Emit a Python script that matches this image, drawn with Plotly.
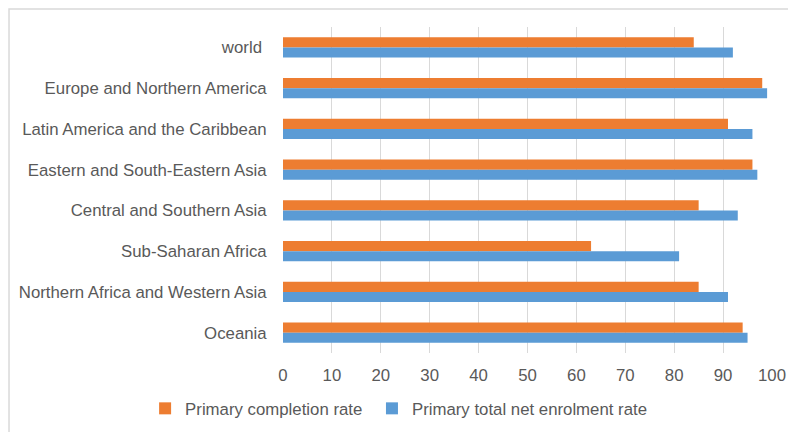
import plotly.graph_objects as go

regions = [
    "world\u00a0",
    "Europe and Northern America",
    "Latin America and the Caribbean",
    "Eastern and South-Eastern Asia",
    "Central and Southern Asia",
    "Sub-Saharan Africa",
    "Northern Africa and Western Asia",
    "Oceania",
]
completion_rate = [84, 98, 91, 96, 85, 63, 85, 94]
enrolment_rate = [92, 99, 96, 97, 93, 81, 91, 95]
x_ticks = [0, 10, 20, 30, 40, 50, 60, 70, 80, 90, 100]

FONT = "Liberation Sans, Arial, sans-serif"
TXT = "#595959"
FS = 16.8

fig = go.Figure()
fig.add_trace(go.Bar(
    y=regions, x=completion_rate, orientation="h",
    name="Primary completion rate\u00a0", marker=dict(color="#ED7D31", line=dict(width=0)),
))
fig.add_trace(go.Bar(
    y=regions, x=enrolment_rate, orientation="h",
    name="Primary total net enrolment rate", marker=dict(color="#5B9BD5", line=dict(width=0)),
))

fig.update_layout(
    width=788, height=424,
    margin=dict(l=275, r=24, t=19, b=79, autoexpand=False),
    paper_bgcolor="white", plot_bgcolor="white",
    barmode="group", bargap=0.5, bargroupgap=0,
    font=dict(family=FONT, size=FS, color=TXT),
    showlegend=True,
    legend=dict(
        orientation="h", x=-0.282, xanchor="left", y=-0.17, yanchor="middle",
        font=dict(family=FONT, size=FS, color=TXT),
        itemwidth=30, traceorder="normal",
    ),
    shapes=[
        dict(type="rect", xref="paper", yref="paper",
             x0=-0.5603, x1=1.2, y0=-0.5, y1=1.055,
             line=dict(color="#d9d9d9", width=1.5), fillcolor="rgba(0,0,0,0)", layer="below"),
    ],
)
fig.update_xaxes(
    range=[0, 100], tickvals=x_ticks, showgrid=True, gridcolor="#d9d9d9", gridwidth=1.3,
    zeroline=False, showline=False, ticks="outside", ticklen=7, tickcolor="rgba(0,0,0,0)",
    tickfont=dict(family=FONT, size=FS, color=TXT), fixedrange=True, automargin=False,
)
fig.update_yaxes(
    autorange="reversed", showgrid=False, showline=False, zeroline=False,
    ticks="outside", ticklen=12, tickcolor="rgba(0,0,0,0)",
    tickfont=dict(family=FONT, size=FS, color=TXT), fixedrange=True, automargin=False,
)

fig.write_html("out.html")
